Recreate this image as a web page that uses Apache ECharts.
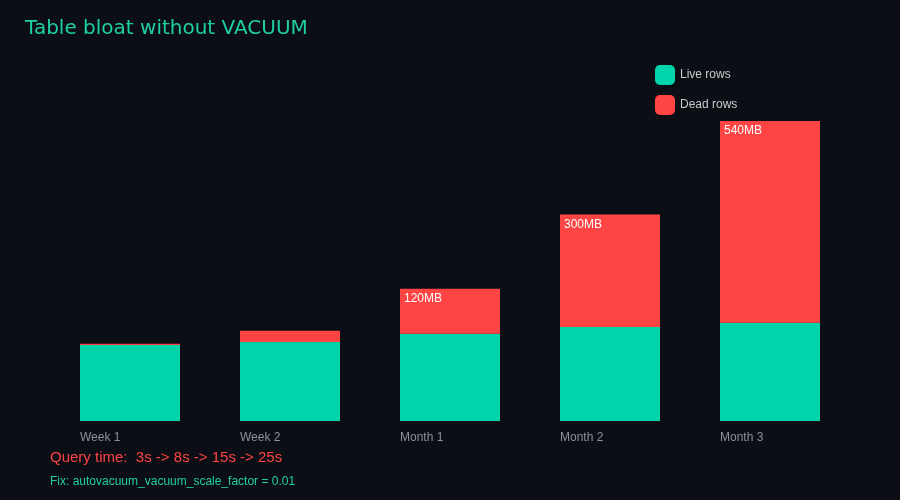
<!DOCTYPE html>
<html><head><meta charset="utf-8">
<script src="https://cdn.jsdelivr.net/npm/echarts@6/dist/echarts.min.js"></script>
<style>html,body{margin:0;background:#0b0e15;}#c{width:900px;height:500px;}</style>
</head><body><div id="c"></div>
<script>
const categories = ['Week 1','Week 2','Month 1','Month 2','Month 3'];
const liveRows = [203, 211, 233, 251, 262];
const deadRows = [3, 30, 120, 300, 538];
const deadLabels = ['', '', '120MB', '300MB', '540MB'];
const chart = echarts.init(document.getElementById('c'));
chart.setOption({
  backgroundColor: '#0b0e15',
  animation: false,
  title: { text: 'Table bloat without VACUUM', left: 20, top: 14,
    textStyle: { color: '#1fcfa4', fontSize: 20, fontWeight: 'normal', fontFamily: 'DejaVu Sans' } },
  legend: { orient: 'vertical', left: 650, top: 60, itemWidth: 20, itemHeight: 20, itemGap: 10,
    textStyle: { color: '#ccc', fontSize: 12 }, data: ['Live rows', 'Dead rows'] },
  grid: { left: 50, right: 50, top: 121, bottom: 79 },
  xAxis: { type: 'category', data: categories,
    axisLine: { show: false }, axisTick: { show: false },
    axisLabel: { color: '#8a919c', fontSize: 12, margin: 11, align: 'center',
      formatter: v => '{a|' + v + '}', rich: { a: { width: 100, align: 'left', color: '#8a919c', fontSize: 12 } } } },
  yAxis: { type: 'value', min: 0, max: 800, show: false, splitLine: { show: false } },
  series: [
    { name: 'Live rows', type: 'bar', stack: 't', barWidth: 100, data: liveRows,
      itemStyle: { color: '#00d4aa' } },
    { name: 'Dead rows', type: 'bar', stack: 't', barWidth: 100, data: deadRows,
      itemStyle: { color: '#ff4444' },
      label: { show: true, position: 'insideTopLeft', offset: [-1, -1], color: '#fff', fontSize: 12,
        formatter: p => deadLabels[p.dataIndex] } }
  ],
  graphic: [
    { type: 'text', left: 50, top: 450, style: { text: 'Query time:  3s -> 8s -> 15s -> 25s', fill: '#ff4444', fontSize: 15 } },
    { type: 'text', left: 50, top: 476, style: { text: 'Fix: autovacuum_vacuum_scale_factor = 0.01', fill: '#1fcfa4', fontSize: 12 } }
  ]
});
</script></body></html>
